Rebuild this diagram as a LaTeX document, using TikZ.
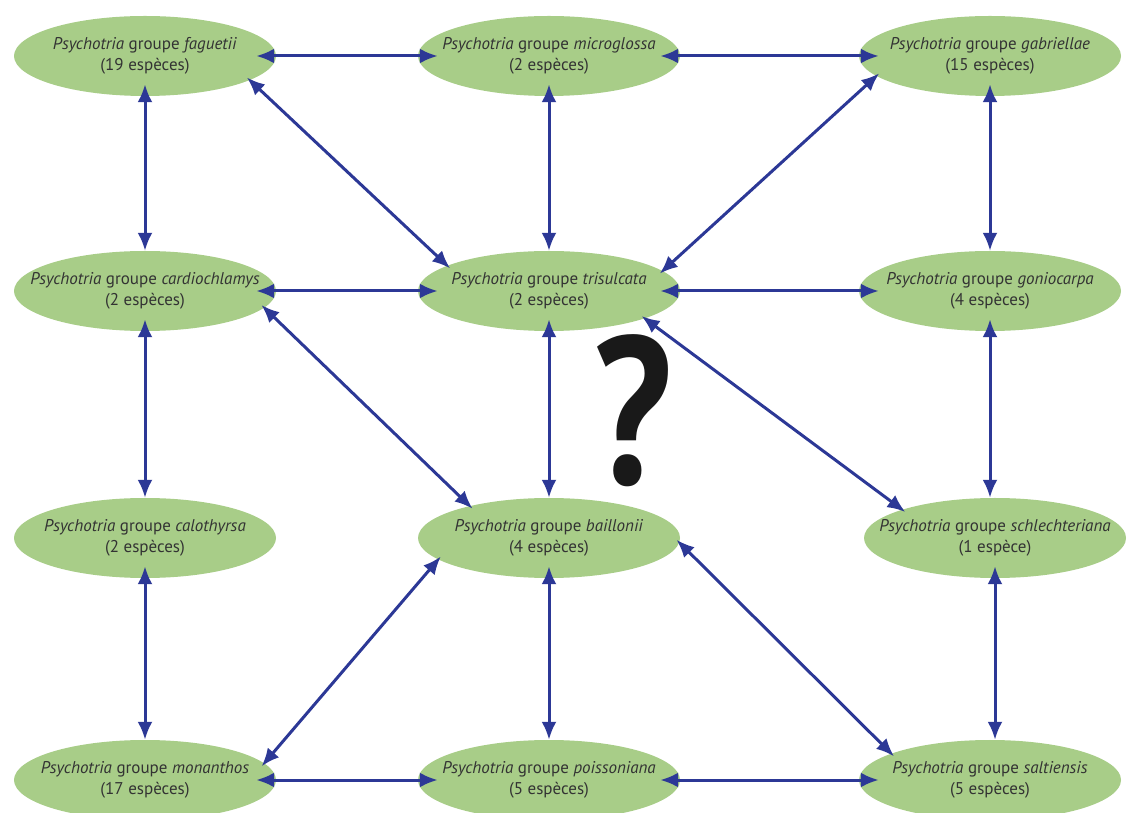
\documentclass[tikz,border=0pt]{standalone}
\usepackage{fontspec}
\setmainfont{PT Sans}
\usetikzlibrary{arrows.meta, positioning, shapes.geometric}
\definecolor{leaf}{RGB}{168,205,136}
\definecolor{linkblue}{RGB}{44,56,150}

\begin{document}
\begin{tikzpicture}[
  x=1pt, y=1pt,
  group/.style={ellipse, fill=leaf, minimum width=262pt, minimum height=80pt,
    inner xsep=-40pt, inner ysep=-2pt, align=center, text=black!80,
    font=\fontsize{17}{21}\selectfont},
  link/.style={{Latex[length=18pt,width=15pt]}-{Latex[length=18pt,width=15pt]},
    line width=3pt, linkblue},
  horiz/.style={link, shorten <=-20pt, shorten >=-20pt},
  vert/.style={link, shorten <=-12pt},
  diag/.style={link, shorten <=-4pt, shorten >=-4pt},
  on grid
]
\useasboundingbox (0,0) rectangle (1128,812);

% groups, row by row
\node[group] (fag) at (145,756) {\textit{Psychotria} groupe \textit{faguetii}\\(19 espèces)};
\node[group, right=404pt of fag] (micro) {\textit{Psychotria} groupe \textit{microglossa}\\(2 espèces)};
\node[group, right=441pt of micro] (gab) {\textit{Psychotria} groupe \textit{gabriellae}\\(15 espèces)};

\node[group, below=235pt of fag] (card) {\textit{Psychotria} groupe \textit{cardiochlamys}\\(2 espèces)};
\node[group, below=235pt of micro] (tri) {\textit{Psychotria} groupe \textit{trisulcata}\\(2 espèces)};
\node[group, below=235pt of gab] (gonio) {\textit{Psychotria} groupe \textit{goniocarpa}\\(4 espèces)};

\node[group, below=247pt of card] (calo) {\textit{Psychotria} groupe \textit{calothyrsa}\\(2 espèces)};
\node[group, below=247pt of tri] (bail) {\textit{Psychotria} groupe \textit{baillonii}\\(4 espèces)};
\node[group, below=247pt of gonio, xshift=5pt] (schl) {\textit{Psychotria} groupe \textit{schlechteriana}\\(1 espèce)};

\node[group, below=242pt of calo] (mon) {\textit{Psychotria} groupe \textit{monanthos}\\(17 espèces)};
\node[group, below=242pt of bail] (poiss) {\textit{Psychotria} groupe \textit{poissoniana}\\(5 espèces)};
\node[group, below=242pt of schl, xshift=-5pt] (salt) {\textit{Psychotria} groupe \textit{saltiensis}\\(5 espèces)};

\node[font=\fontsize{210}{210}\selectfont\bfseries, text=black!90, xscale=0.83, inner sep=0pt] (qmark) at (633,401) {?};

% horizontal links
\draw[horiz] (fag) -- (micro);
\draw[horiz] (micro) -- (gab);
\draw[horiz] (card) -- (tri);
\draw[horiz] (tri) -- (gonio);
\draw[horiz] (mon) -- (poiss);
\draw[horiz] (poiss) -- (salt);

% vertical links
\draw[vert] (fag) -- (card);
\draw[vert] (micro) -- (tri);
\draw[vert] (gab) -- (gonio);
\draw[vert] (card) -- (calo);
\draw[vert] (tri) -- (bail);
\draw[vert] (gonio.south) -- (schl.north -| gonio.south);
\draw[vert] (calo) -- (mon);
\draw[vert] (bail) -- (poiss);
\draw[vert] (schl.south) -- (salt.north -| schl.south);

% diagonal links
\draw[diag] (fag.-13) -- (tri.166);
\draw[diag] (gab.-170) -- (tri.10);
\draw[diag] (card.-8) -- (bail.158);
\draw[diag] (tri.-16) -- (schl.163);
\draw[diag] (bail.-169) -- (mon.8);
\draw[diag] (bail.-2) -- (salt.165);
\end{tikzpicture}
\end{document}
